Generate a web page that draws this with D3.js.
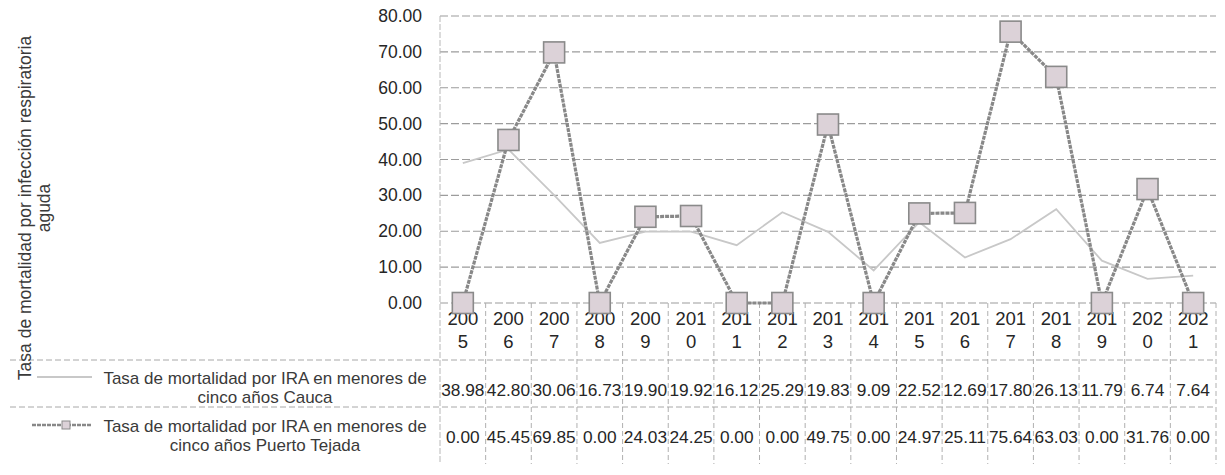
<!DOCTYPE html>
<html>
<head>
<meta charset="utf-8">
<script src="https://cdn.jsdelivr.net/npm/d3@7"></script>
<style>
  html, body { margin: 0; padding: 0; background: #fff; }
  svg { display: block; font-family: "Liberation Sans", Arial, sans-serif; }
</style>
</head>
<body>
<svg id="chart" width="1225" height="475"></svg>
<script>
// ---- data ----
const years = ["2005","2006","2007","2008","2009","2010","2011","2012","2013","2014","2015","2016","2017","2018","2019","2020","2021"];
const cauca = [38.98, 42.80, 30.06, 16.73, 19.90, 19.92, 16.12, 25.29, 19.83, 9.09, 22.52, 12.69, 17.80, 26.13, 11.79, 6.74, 7.64];
const puertoTejada = [0.00, 45.45, 69.85, 0.00, 24.03, 24.25, 0.00, 0.00, 49.75, 0.00, 24.97, 25.11, 75.64, 63.03, 0.00, 31.76, 0.00];
const yTicks = [0, 10, 20, 30, 40, 50, 60, 70, 80];
const seriesNames = [
  ["Tasa de mortalidad por IRA en menores de", "cinco años Cauca"],
  ["Tasa de mortalidad por IRA en menores de", "cinco años Puerto Tejada"]
];
const yTitle = ["Tasa de mortalidad por infección respiratoria", "aguda"];

// ---- layout ----
const svg = d3.select("#chart");
const plotLeft = 440, plotRight = 1216, plotTop = 16, plotBottom = 303;
const tableBottom = 464;
const rowLines = [360, 407];
const textColor = "#262626";

const x = d3.scaleBand().domain(years).range([plotLeft, plotRight]);
const y = d3.scaleLinear().domain([0, 80]).range([plotBottom, plotTop]);

const gridColor = "#9c9c9c";

// horizontal gridlines
svg.append("g").selectAll("line").data(yTicks).join("line")
  .attr("x1", plotLeft).attr("x2", plotRight)
  .attr("y1", d => y(d)).attr("y2", d => y(d))
  .attr("stroke", gridColor).attr("stroke-width", 1.2)
  .attr("stroke-dasharray", "8,3");

// table vertical lines (column boundaries)
const bounds = years.map(d => x(d)).concat([plotRight]);
svg.append("g").selectAll("line").data(bounds.slice(1)).join("line")
  .attr("x1", d => d).attr("x2", d => d)
  .attr("y1", plotBottom).attr("y2", tableBottom)
  .attr("stroke", "#b0b0b0").attr("stroke-width", 1)
  .attr("stroke-dasharray", "5,3");

// table horizontal lines
svg.append("g").selectAll("line").data(rowLines).join("line")
  .attr("x1", 10).attr("x2", plotRight)
  .attr("y1", d => d).attr("y2", d => d)
  .attr("stroke", "#a8a8a8").attr("stroke-width", 1)
  .attr("stroke-dasharray", "6,3");

// vertical axis line
svg.append("line")
  .attr("x1", plotLeft).attr("x2", plotLeft)
  .attr("y1", plotTop).attr("y2", tableBottom)
  .attr("stroke", "#b8b8b8").attr("stroke-width", 1)
  .attr("stroke-dasharray", "6,2");

// y axis labels
const yAxis = svg.append("g")
  .attr("transform", `translate(${plotLeft},0)`)
  .call(d3.axisLeft(y).tickValues(yTicks).tickFormat(d3.format(".2f")).tickSize(0).tickPadding(18));
yAxis.select(".domain").remove();
yAxis.selectAll("text")
  .attr("font-family", "'Liberation Sans', Arial, sans-serif")
  .attr("font-size", 17.5).attr("fill", textColor);

// y title
const yt = svg.append("text")
  .attr("transform", "translate(31,208) rotate(-90)")
  .attr("text-anchor", "middle")
  .attr("font-size", 17.5).attr("fill", "#3a3a3a");
yt.append("tspan").attr("x", 0).attr("y", 0).text(yTitle[0]);
yt.append("tspan").attr("x", 0).attr("y", 19).text(yTitle[1]);

// year labels (category axis in the table)
const xAxis = svg.append("g")
  .attr("transform", `translate(0,${plotBottom})`)
  .call(d3.axisBottom(x).tickSize(0).tickPadding(0).tickFormat(() => ""));
xAxis.select(".domain").remove();
xAxis.selectAll(".tick text").each(function(d) {
  const t = d3.select(this)
    .attr("font-family", "'Liberation Sans Narrow', 'Liberation Sans', Arial, sans-serif")
    .attr("font-size", 18.5).attr("fill", textColor).attr("y", 0).attr("dy", null);
  t.append("tspan").attr("x", 0).attr("y", 22).text(d.slice(0, 3));
  t.append("tspan").attr("x", 0).attr("y", 45).text(d.slice(3));
});

// lines
const lineGen = d3.line().x((d, i) => x(years[i]) + x.bandwidth() / 2).y(d => y(d));

svg.append("path").datum(cauca)
  .attr("d", lineGen).attr("fill", "none")
  .attr("stroke", "#c8c8c8").attr("stroke-width", 1.8);

svg.append("path").datum(puertoTejada)
  .attr("d", lineGen).attr("fill", "none")
  .attr("stroke", "#888888").attr("stroke-width", 3.2)
  .attr("stroke-dasharray", "4,1");

const ms = 21;
svg.append("g").selectAll("rect").data(puertoTejada).join("rect")
  .attr("x", (d, i) => x(years[i]) + x.bandwidth() / 2 - ms / 2)
  .attr("y", d => y(d) - ms / 2)
  .attr("width", ms).attr("height", ms)
  .attr("fill", "#dcd2d8").attr("stroke", "#8a8a8a").attr("stroke-width", 1.6);

// table value rows
const rows = [
  { data: cauca, base: 396, lbl: [384, 403] },
  { data: puertoTejada, base: 443, lbl: [432, 451] }
];
rows.forEach((r, ri) => {
  svg.append("g").selectAll("text").data(r.data).join("text")
    .attr("x", (d, i) => x(years[i]) + x.bandwidth() / 2)
    .attr("y", r.base)
    .attr("text-anchor", "middle")
    .attr("font-size", 17.3).attr("fill", textColor)
    .text(d => d3.format(".2f")(d));

  const lt = svg.append("text").attr("text-anchor", "middle")
    .attr("font-size", 17).attr("fill", "#3a3a3a");
  lt.append("tspan").attr("x", 265).attr("y", r.lbl[0]).text(seriesNames[ri][0]);
  lt.append("tspan").attr("x", 265).attr("y", r.lbl[1]).text(seriesNames[ri][1]);
});

// legend keys
svg.append("line").attr("x1", 37).attr("x2", 92).attr("y1", 377).attr("y2", 377)
  .attr("stroke", "#c8c8c8").attr("stroke-width", 1.8);
svg.append("line").attr("x1", 32).attr("x2", 92).attr("y1", 425).attr("y2", 425)
  .attr("stroke", "#888888").attr("stroke-width", 2.5).attr("stroke-dasharray", "4,1");
svg.append("rect").attr("x", 62).attr("y", 421).attr("width", 8).attr("height", 8)
  .attr("fill", "#dcd2d8").attr("stroke", "#8a8a8a").attr("stroke-width", 1);
</script>
</body>
</html>
